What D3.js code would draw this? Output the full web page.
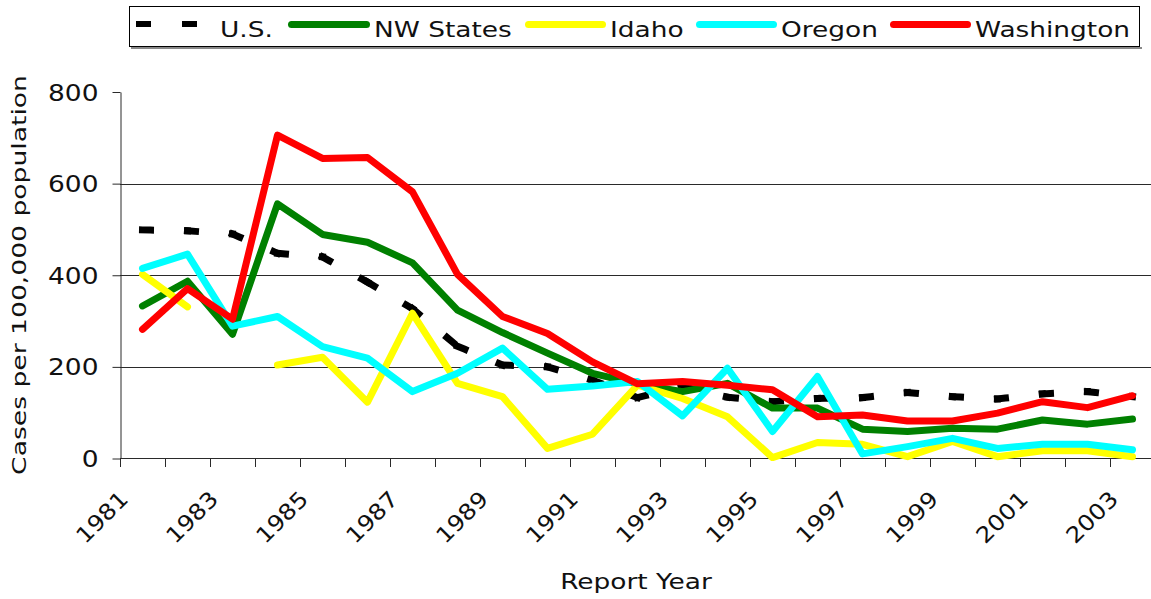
<!DOCTYPE html>
<html><head><meta charset="utf-8">
<script src="https://cdn.jsdelivr.net/npm/d3@7"></script>
<style>body{margin:0;background:#fff}svg{display:block}</style>
</head><body>
<script>
// ---- data ----
const years = [1981,1982,1983,1984,1985,1986,1987,1988,1989,1990,1991,1992,1993,1994,1995,1996,1997,1998,1999,2000,2001,2002,2003];
const yearLabels = [1981,1983,1985,1987,1989,1991,1993,1995,1997,1999,2001,2003];
const yTicks = [0,200,400,600,800];
const gridValues = [200,400,600];
const usRates = [499,497,490,448,440,385,327,245,204,200,171,133,157,134,124,131,133,144,135,130,141,146,135];
const nwRates = [333,387,271,556,489,472,427,324,275,230,186,163,146,164,110,110,64,59,66,64,84,75,86];
const idahoRates = [402,331,null,204,221,123,317,164,135,22,53,160,131,91,2,35,31,4,37,4,17,17,4];
const oregonRates = [415,446,289,310,244,219,146,186,241,151,158,168,93,197,59,179,10,26,44,22,31,31,19];
const washingtonRates = [282,371,304,706,655,657,582,402,310,273,211,163,168,160,150,91,95,82,82,99,124,111,137];
const seriesNames = ["U.S.","NW States","Idaho","Oregon","Washington"];
const seriesColors = ["#000000","#008000","#FFFF00","#00FFFF","#FF0000"];

// ---- layout ----
const W = 1151, H = 599;
const FONT = "'DejaVu Sans', Verdana, sans-serif";
const TXT = "#111";
const svg = d3.select("body").append("svg").attr("width", W).attr("height", H)
  .style("font-family", FONT);

const x = d3.scaleBand().domain(years).range([120, 1155]).padding(0);
const y = d3.scaleLinear().domain([0, 800]).range([458.5, 92]);
const cx = d => x(d) + x.bandwidth() / 2;

// gridlines
svg.append("g").selectAll("line").data(gridValues).join("line")
  .attr("x1", 120).attr("x2", W)
  .attr("y1", d => Math.round(y(d)) + 0.5).attr("y2", d => Math.round(y(d)) + 0.5)
  .attr("stroke", "#2a2a2a").attr("stroke-width", 1);

// y axis
const yAxis = svg.append("g").attr("transform", "translate(120.5,0)")
  .call(d3.axisLeft(y).tickValues(yTicks).tickSize(8).tickSizeOuter(0));
yAxis.select(".domain").attr("stroke", "#2a2a2a");
yAxis.selectAll(".tick line").attr("stroke", "#2a2a2a");
yAxis.selectAll(".tick text")
  .attr("x", null).attr("dy", null)
  .attr("transform", "translate(-22,8) scale(1.15,1)")
  .attr("text-anchor", "end")
  .style("font-family", FONT).style("font-size", "23px").attr("fill", TXT);

// x axis line + tick marks at band edges
const xg = svg.append("g");
xg.append("line").attr("x1", 120).attr("x2", W).attr("y1", 458.5).attr("y2", 458.5)
  .attr("stroke", "#2a2a2a");
xg.selectAll("line.t").data(years).join("line").attr("class", "t")
  .attr("x1", d => Math.round(x(d)) + 0.5).attr("x2", d => Math.round(x(d)) + 0.5)
  .attr("y1", 458.5).attr("y2", 467).attr("stroke", "#2a2a2a");

// x labels (odd years) via axis at band centers
const xAxis = svg.append("g").attr("transform", "translate(0,458.5)")
  .call(d3.axisBottom(x).tickValues(yearLabels).tickSize(0));
xAxis.select(".domain").remove();
xAxis.selectAll(".tick text")
  .attr("y", null).attr("dy", null)
  .attr("transform", "translate(-13,42) rotate(-45) scale(1.12,1)")
  .attr("text-anchor", "end")
  .style("font-family", FONT).style("font-size", "22px").attr("fill", TXT);

// axis titles
svg.append("text").attr("transform", "translate(636,589) scale(1.2,1)")
  .attr("text-anchor", "middle").style("font-size", "22px").attr("fill", TXT).text("Report Year");
svg.append("text").attr("transform", "translate(26,275) rotate(-90) scale(1.33,1)")
  .attr("text-anchor", "middle").style("font-size", "20px").attr("fill", TXT).text("Cases per 100,000 population");

// ---- series ----
const line = d3.line().defined(d => d.v != null).x(d => cx(d.year)).y(d => y(d.v));
const toPts = arr => years.map((yr, i) => ({ year: yr, v: arr[i] }));

// U.S. dashed: the dash pattern restarts on every segment
const usPts = toPts(usRates);
svg.append("g").selectAll("path").data(d3.pairs(usPts)).join("path")
  .attr("d", d => line(d))
  .attr("fill", "none").attr("stroke", seriesColors[0]).attr("stroke-width", 7)
  .attr("stroke-dasharray", "8,37").attr("stroke-linecap", "square");

const solid = [nwRates, idahoRates, oregonRates, washingtonRates];
solid.forEach((arr, k) => {
  svg.append("path").attr("d", line(toPts(arr)))
    .attr("fill", "none").attr("stroke", seriesColors[k + 1]).attr("stroke-width", 7)
    .attr("stroke-linejoin", "round").attr("stroke-linecap", "round");
});

// ---- legend ----
const lg = svg.append("g");
lg.append("line").attr("x1", 131).attr("x2", 1142).attr("y1", 48).attr("y2", 48)
  .attr("stroke", "#888").attr("stroke-width", 2);
lg.append("rect").attr("x", 129.5).attr("y", 6.5).attr("width", 1010).attr("height", 40)
  .attr("fill", "#fff").attr("stroke", "#000").attr("stroke-width", 1);
const legStarts = [136, 288, 525, 696, 890];
const legEnds = [197, 370, 606, 777, 971];
seriesNames.forEach((name, i) => {
  if (i === 0) {
    lg.append("line").attr("x1", legStarts[i]).attr("x2", legEnds[i]).attr("y1", 24).attr("y2", 24)
      .attr("stroke", "#000").attr("stroke-width", 6).attr("stroke-dasharray", "15,31");
  } else {
    lg.append("line").attr("x1", legStarts[i] + 3.5).attr("x2", legEnds[i] - 3.5).attr("y1", 24.5).attr("y2", 24.5)
      .attr("stroke", seriesColors[i]).attr("stroke-width", 7).attr("stroke-linecap", "round");
  }
  const tx = i === 0 ? 220 : legEnds[i] + 4;
  lg.append("text").attr("transform", `translate(${tx},36.5) scale(1.2,1)`)
    .style("font-size", "22px").attr("fill", TXT).text(name);
});
</script>
</body></html>
